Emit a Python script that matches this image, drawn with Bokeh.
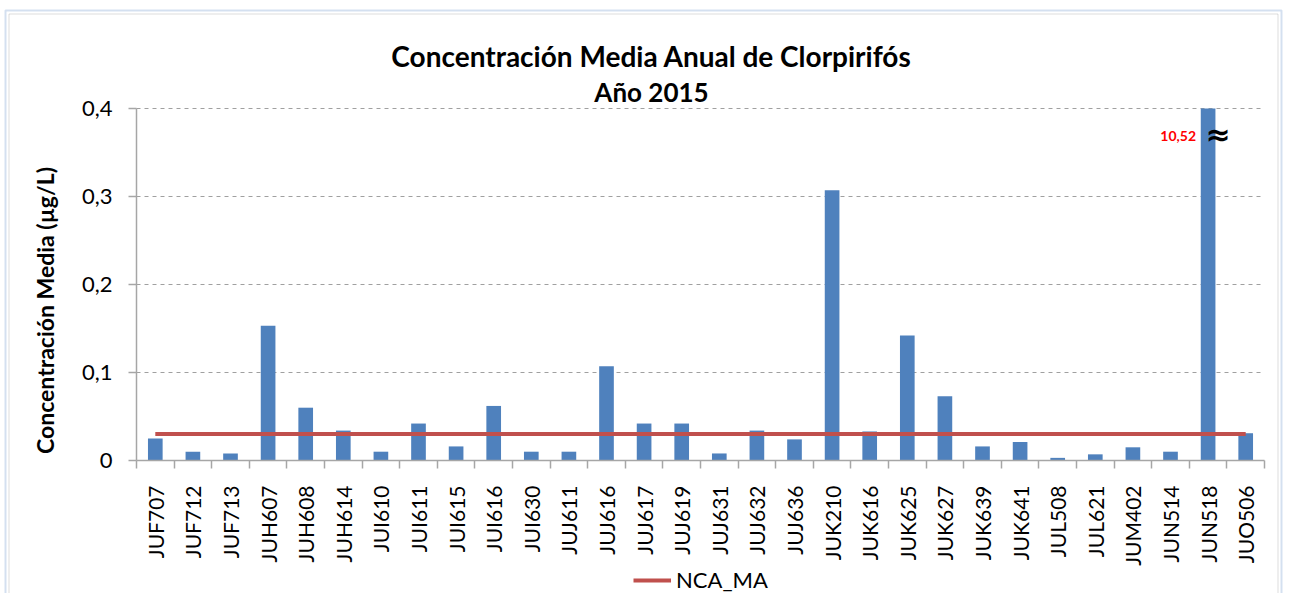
from bokeh.plotting import figure
from bokeh.models import Range1d, FixedTicker, Legend, LegendItem, Label, BoxAnnotation
from bokeh.embed import file_html
from bokeh.resources import INLINE

# ---- data ----
stations = ["JUF707", "JUF712", "JUF713", "JUH607", "JUH608", "JUH614", "JUI610",
            "JUI611", "JUI615", "JUI616", "JUI630", "JUJ611", "JUJ616", "JUJ617",
            "JUJ619", "JUJ631", "JUJ632", "JUJ636", "JUK210", "JUK616", "JUK625",
            "JUK627", "JUK639", "JUK641", "JUL508", "JUL621", "JUM402", "JUN514",
            "JUN518", "JUO506"]
conc = [0.025, 0.010, 0.008, 0.153, 0.060, 0.034, 0.010,
        0.042, 0.016, 0.062, 0.010, 0.010, 0.107, 0.042,
        0.042, 0.008, 0.034, 0.024, 0.307, 0.033, 0.142,
        0.073, 0.016, 0.021, 0.003, 0.007, 0.015, 0.010,
        10.52, 0.031]
nca_ma = 0.03
y_ticks = [0, 0.1, 0.2, 0.3, 0.4]
y_tick_labels = ["0", "0,1", "0,2", "0,3", "0,4"]
offscale_station = "JUN518"
offscale_text = "10,52"
title_line1 = "Concentración Media Anual de Clorpirifós"
title_line2 = "Año 2015"
y_label = "Concentración Media (µg/L)"
legend_label = "NCA_MA"

n = len(stations)
xc = [i + 0.5 for i in range(n)]
y_max = y_ticks[-1]
# the value axis stops at y_max: longer bars are cut there (as in the original)
bar_tops = [min(v, y_max) for v in conc]

BAR = "#4F81BD"
RED = "#C0504D"
AXC = "#A6A6A6"
FONT = "Lato"

W, H = 1283, 593
# plot area in pixels: x 136..1264, y 108 (top) .. 460 (zero line)
X0, X1, YT, YB = 136, 1264, 108, 460
px_per_cat = (X1 - X0) / n
px_per_unit = (YB - YT) / y_max


def dx(px):
    return (px - X0) / px_per_cat


def dy(py):
    return (YB - py) / px_per_unit


x_rng = Range1d(dx(0), dx(W))
y_rng = Range1d(dy(H), dy(0))

p = figure(width=W, height=H, x_range=x_rng, y_range=y_rng,
           output_backend="svg", toolbar_location=None,
           min_border_left=0, min_border_right=0,
           min_border_top=0, min_border_bottom=0)
p.background_fill_color = "white"
p.border_fill_color = "white"
p.outline_line_color = None

# chart-area border (blue outer line, grey inner line)
p.add_layout(BoxAnnotation(left=dx(5), right=dx(1281), top=dy(10), bottom=dy(H + 20),
                           fill_alpha=0, line_color="#6F97CC", line_width=2))
p.add_layout(BoxAnnotation(left=dx(8.5), right=dx(1277.5), top=dy(13.5), bottom=dy(H + 20),
                           fill_alpha=0, line_color="#8C8C8C", line_width=1))

p.vbar(x=xc, top=bar_tops, width=0.39, fill_color=BAR, line_color=None)
nca_line = p.line(x=xc, y=[nca_ma] * n, line_color=RED, line_width=4)

# x axis (crossing at y = 0)
xa = p.xaxis[0]
xa.fixed_location = 0
xa.bounds = (0, n)
xa.ticker = FixedTicker(ticks=xc, minor_ticks=list(range(n + 1)))
xa.major_label_overrides = {x: s for x, s in zip(xc, stations)}
xa.major_label_orientation = 3.14159265 / 2
xa.major_tick_out = 0
xa.major_tick_in = 0
xa.minor_tick_out = 8
xa.minor_tick_in = 0
xa.minor_tick_line_color = AXC
xa.minor_tick_line_width = 1.5
xa.axis_line_color = AXC
xa.axis_line_width = 1.5
xa.major_label_standoff = 17
xa.major_label_text_font = FONT
xa.major_label_text_font_size = "21px"
xa.major_label_text_color = "black"

# y axis (crossing at x = 0)
ya = p.yaxis[0]
ya.fixed_location = 0
ya.bounds = (0, y_max)
ya.ticker = FixedTicker(ticks=y_ticks, minor_ticks=[])
ya.major_label_overrides = {t: s for t, s in zip(y_ticks, y_tick_labels)}
ya.major_tick_out = 8
ya.major_tick_in = 0
ya.major_tick_line_color = AXC
ya.major_tick_line_width = 1.5
ya.minor_tick_out = 0
ya.minor_tick_in = 0
ya.axis_line_color = AXC
ya.axis_line_width = 1.5
ya.major_label_standoff = 16
ya.major_label_text_font = FONT
ya.major_label_text_font_size = "22px"
ya.major_label_text_color = "black"

p.xgrid.grid_line_color = None
p.ygrid.ticker = FixedTicker(ticks=y_ticks[1:])
p.ygrid.cross_bounds = (0, n)
p.ygrid.grid_line_color = "#A0A0A0"
p.ygrid.grid_line_dash = "4 4"
p.ygrid.grid_line_width = 1

# value-axis title
p.add_layout(Label(x=dx(44), y=dy(310), text=y_label, angle=3.14159265 / 2,
                   text_align="center", text_baseline="middle", text_font=FONT,
                   text_font_size="23px", text_font_style="bold", text_color="black"))

# chart titles
tx = dx(651)
p.add_layout(Label(x=tx, y=dy(55.5), text=title_line1,
                   text_align="center", text_baseline="alphabetic", text_font=FONT,
                   text_font_size="28px", text_font_style="bold", text_color="black"))
p.add_layout(Label(x=tx, y=dy(91.5), text=title_line2,
                   text_align="center", text_baseline="alphabetic", text_font=FONT,
                   text_font_size="26px", text_font_style="bold", text_color="black"))

# off-scale annotation
ix = stations.index(offscale_station)
p.add_layout(Label(x=xc[ix], y=dy(135.7), x_offset=-12,
                   text=offscale_text, text_align="right", text_baseline="alphabetic",
                   text_font=FONT, text_font_size="14px",
                   text_font_style="bold", text_color="#FF0000"))
p.add_layout(Label(x=xc[ix], y=dy(134), x_offset=10, text="≈",
                   text_align="center", text_baseline="alphabetic",
                   text_font="DejaVu Sans", text_font_size="30px",
                   text_font_style="bold", text_color="black"))

legend = Legend(items=[LegendItem(label=legend_label, renderers=[nca_line])],
                location=(633, 0), orientation="horizontal",
                glyph_width=38, glyph_height=20, label_standoff=5,
                label_text_font=FONT, label_text_font_size="22px",
                label_text_color="black", border_line_color=None,
                background_fill_alpha=0, padding=0, margin=0)
p.add_layout(legend, "center")

open("out.html", "w").write(file_html(p, INLINE))
